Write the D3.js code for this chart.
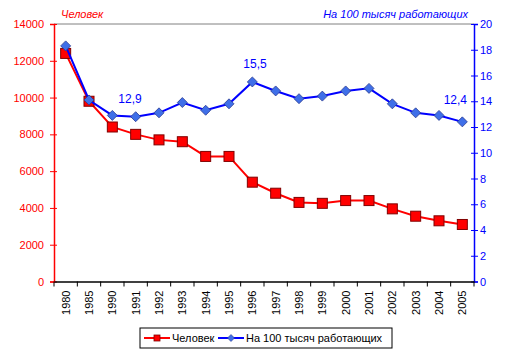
<!DOCTYPE html>
<html><head><meta charset="utf-8">
<script src="https://cdn.jsdelivr.net/npm/d3@7"></script>
<style>body{margin:0;background:#fff;}text{font-family:"Liberation Sans",Arial,sans-serif;}</style>
</head><body><svg id="c" width="513" height="357"></svg>
<script>
const years = ["1980","1985","1990","1991","1992","1993","1994","1995","1996","1997","1998","1999","2000","2001","2002","2003","2004","2005"];
const people = [12400,9800,8400,8000,7700,7600,6800,6800,5400,4800,4300,4250,4400,4400,3950,3550,3300,3100];
const per100k = [18.3,14.1,12.9,12.8,13.1,13.9,13.3,13.8,15.5,14.8,14.2,14.4,14.8,15.0,13.8,13.1,12.9,12.4];
const leftTicks = [0,2000,4000,6000,8000,10000,12000,14000];
const rightTicks = [0,2,4,6,8,10,12,14,16,18,20];
const labelled = {"1990":"12,9","1996":"15,5","2005":"12,4"};

const svg = d3.select("#c");
const L = 54, R = 474, T = 24, B = 281.5;
const x = d3.scaleBand().domain(years).range([L, R]);
const yl = d3.scaleLinear().domain([0,14000]).range([B, T]);
const yr = d3.scaleLinear().domain([0,20]).range([B, T]);

// top gridline
svg.append("line").attr("x1",L).attr("x2",R).attr("y1",yl(14000)).attr("y2",yl(14000)).attr("stroke","#808080").attr("stroke-width",1);

// left axis
const la = svg.append("g").attr("transform",`translate(${L},0)`)
  .call(d3.axisLeft(yl).tickValues(leftTicks).tickFormat(d3.format("d")).tickSize(4).tickPadding(6));
la.select(".domain").attr("stroke","#f00").attr("stroke-width",1.5);
la.selectAll(".tick line").attr("stroke","#f00").attr("x2",3).attr("x1",-4);
la.selectAll("text").attr("fill","#f00").style("font-size","11px").attr("x",-10);

// right axis
const ra = svg.append("g").attr("transform",`translate(${R},0)`)
  .call(d3.axisRight(yr).tickValues(rightTicks).tickFormat(d3.format("d")).tickSize(4).tickPadding(5));
ra.select(".domain").attr("stroke","#00f").attr("stroke-width",1.5);
ra.selectAll(".tick line").attr("stroke","#00f").attr("x1",-3).attr("x2",4);
ra.selectAll("text").attr("fill","#00f").style("font-size","11px").attr("x",6);

// bottom axis
const ba = svg.append("g").attr("transform",`translate(0,${B})`)
  .call(d3.axisBottom(x).tickSize(0).tickPadding(0));
ba.select(".domain").attr("stroke","#000").attr("stroke-width",1.5);
ba.selectAll("text").attr("fill","#000").style("font-size","11px")
  .attr("transform","rotate(-90)").attr("text-anchor","end").attr("dy","0.35em").attr("x",-9).attr("y",0);
// band boundary ticks
const bounds = years.map(d => x(d)).concat([R]);
svg.append("g").selectAll("line").data(bounds).join("line")
  .attr("x1",d=>d).attr("x2",d=>d).attr("y1",B).attr("y2",B+5).attr("stroke","#000").attr("stroke-width",1);

const cx = d => x(d) + x.bandwidth()/2;

// red series
svg.append("path").datum(people).attr("fill","none").attr("stroke","#f00").attr("stroke-width",2)
  .attr("d", d3.line().x((d,i)=>cx(years[i])).y(d=>yl(d)));
svg.append("g").selectAll("rect").data(people).join("rect")
  .attr("x",(d,i)=>cx(years[i])-5).attr("y",d=>yl(d)-5).attr("width",10).attr("height",10)
  .attr("fill","#f00").attr("stroke","#800000").attr("stroke-width",1);

// blue series
svg.append("path").datum(per100k).attr("fill","none").attr("stroke","#00f").attr("stroke-width",2)
  .attr("d", d3.line().x((d,i)=>cx(years[i])).y(d=>yr(d)));
svg.append("g").selectAll("path").data(per100k).join("path")
  .attr("d",(d,i)=>{const px=cx(years[i]),py=yr(d),s=5;return `M${px},${py-s}L${px+s},${py}L${px},${py+s}L${px-s},${py}Z`;})
  .attr("fill","#3f6fe8").attr("stroke","#2a3a90").attr("stroke-width",0.8);

// data labels
svg.append("g").selectAll("text").data(years.filter(y=>labelled[y])).join("text")
  .attr("x",d=>cx(d)+ (d==="2005"? -7 : d==="1990"? 6 : 0))
  .attr("y",d=>yr(per100k[years.indexOf(d)]) - (d==="2005"? 18 : d==="1990"? 12 : 14))
  .attr("text-anchor",d=>d==="2005"?"middle":"start")
  .attr("dx",d=>d==="1990"?0:d==="1996"?-9:0)
  .attr("fill","#00f").style("font-size","12px").text(d=>labelled[d]);

// axis titles
svg.append("text").attr("x",61).attr("y",18).attr("fill","#f00").style("font-size","11px").style("font-style","italic").text("Человек");
svg.append("text").attr("x",468).attr("y",18).attr("text-anchor","end").attr("fill","#00f").style("font-size","11px").style("font-style","italic").text("На 100 тысяч работающих");

// legend
const lg = svg.append("g");
lg.append("rect").attr("x",140).attr("y",328).attr("width",252).attr("height",20).attr("fill","#fff").attr("stroke","#000").attr("stroke-width",1);
lg.append("line").attr("x1",144).attr("x2",170).attr("y1",338).attr("y2",338).attr("stroke","#f00").attr("stroke-width",2);
lg.append("rect").attr("x",154).attr("y",335).attr("width",6).attr("height",6).attr("fill","#f00").attr("stroke","#800000").attr("stroke-width",0.8);
lg.append("text").attr("x",172).attr("y",342).style("font-size","11px").attr("fill","#000").text("Человек");
lg.append("line").attr("x1",218).attr("x2",244).attr("y1",338).attr("y2",338).attr("stroke","#00f").attr("stroke-width",2);
lg.append("path").attr("d","M231,334.5L234.5,338L231,341.5L227.5,338Z").attr("fill","#3f6fe8").attr("stroke","#2a3a90").attr("stroke-width",0.6);
lg.append("text").attr("x",246).attr("y",342).style("font-size","11px").attr("fill","#000").text("На 100 тысяч работающих");
</script></body></html>
